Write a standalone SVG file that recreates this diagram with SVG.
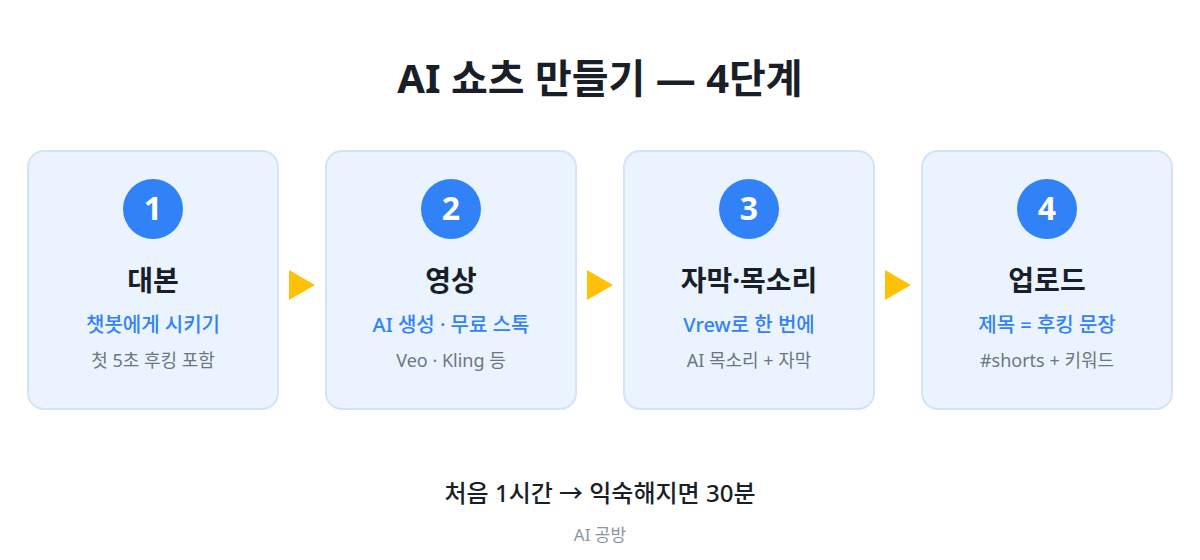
<svg xmlns="http://www.w3.org/2000/svg" width="1200" height="560" viewBox="0 0 1200 560">
<style>
text{font-family:"Noto Sans","Noto Sans CJK KR",sans-serif;text-anchor:middle}
.card{fill:#EBF3FE;stroke:#D3E3FA;stroke-width:2}
.num-c{fill:#3182F6}
.num{fill:#fff;font-size:32px;font-weight:700}
.t{fill:#191F28;font-size:28px;font-weight:700}
.s{fill:#3182F6;font-size:20px;font-weight:500}
.g{fill:#6B7684;font-size:18px}
.arr{fill:#FFC107}
</style>
<rect width="1200" height="560" fill="#fff"/>
<text x="600" y="93" style="font-size:40px;font-weight:700;fill:#191F28">AI 쇼츠 만들기 — 4단계</text>
<g id="step1">
<rect class="card" x="28" y="151" width="250" height="258" rx="16"/>
<circle class="num-c" cx="153" cy="209" r="30"/>
<text class="num" x="153" y="220">1</text>
<text class="t" x="153" y="291">대본</text>
<text class="s" x="153" y="332">챗봇에게 시키기</text>
<text class="g" x="153" y="367">첫 5초 후킹 포함</text>
</g>
<g id="step2">
<rect class="card" x="326" y="151" width="250" height="258" rx="16"/>
<circle class="num-c" cx="451" cy="209" r="30"/>
<text class="num" x="451" y="220">2</text>
<text class="t" x="451" y="291">영상</text>
<text class="s" x="451" y="332">AI 생성 · 무료 스톡</text>
<text class="g" x="451" y="367">Veo · Kling 등</text>
</g>
<g id="step3">
<rect class="card" x="624" y="151" width="250" height="258" rx="16"/>
<circle class="num-c" cx="749" cy="209" r="30"/>
<text class="num" x="749" y="220">3</text>
<text class="t" x="749" y="291">자막·목소리</text>
<text class="s" x="749" y="332">Vrew로 한 번에</text>
<text class="g" x="749" y="367">AI 목소리 + 자막</text>
</g>
<g id="step4">
<rect class="card" x="922" y="151" width="250" height="258" rx="16"/>
<circle class="num-c" cx="1047" cy="209" r="30"/>
<text class="num" x="1047" y="220">4</text>
<text class="t" x="1047" y="291">업로드</text>
<text class="s" x="1047" y="332">제목 = 후킹 문장</text>
<text class="g" x="1047" y="367">#shorts + 키워드</text>
</g>
<g id="connectors">
<polygon class="arr" points="289,270 315,285 289,300"/>
<polygon class="arr" points="587,270 613,285 587,300"/>
<polygon class="arr" points="885,270 911,285 885,300"/>
</g>
<text x="600" y="502" style="font-size:24px;font-weight:500;fill:#191F28">처음 1시간 → 익숙해지면 30분</text>
<text x="600" y="541" style="font-size:17px;fill:#8B95A1">AI 공방</text>
</svg>
